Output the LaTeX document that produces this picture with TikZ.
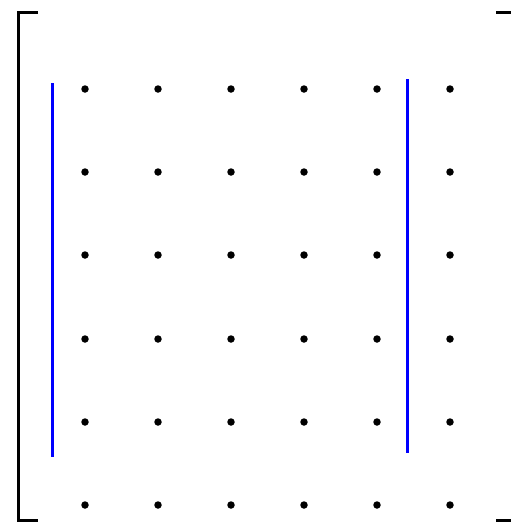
\documentclass[tikz,border=0pt]{standalone}
\begin{document}
\begin{tikzpicture}[x=1pt,y=-1pt,
  dot/.style={circle,fill=black,inner sep=0pt,minimum size=7.5pt},
  brk/.style={line width=3pt,black},
  bar/.style={line width=3pt,blue}]
\clip (0,0) rectangle (511,523);
\useasboundingbox (0,0) rectangle (511,523);
\draw[brk] (38,12) -- (18,12) -- (18,520) -- (38,520);
\draw[brk] (496,12) -- (515,12) -- (515,520) -- (496,520);
\foreach \c [count=\i] in {85,158,231,304,377,450}{
  \foreach \r [count=\j] in {89,172,255,339,422,505}{
    \node[dot] (d\i\j) at (\c,\r) {};
  }
}
\coordinate (l1) at (52,83);
\coordinate (l2) at (52,457);
\coordinate (r1) at (407,79);
\coordinate (r2) at (407,453);
\draw[bar] (l1) -- (l2);
\draw[bar] (r1) -- (r2);
\end{tikzpicture}
\end{document}
